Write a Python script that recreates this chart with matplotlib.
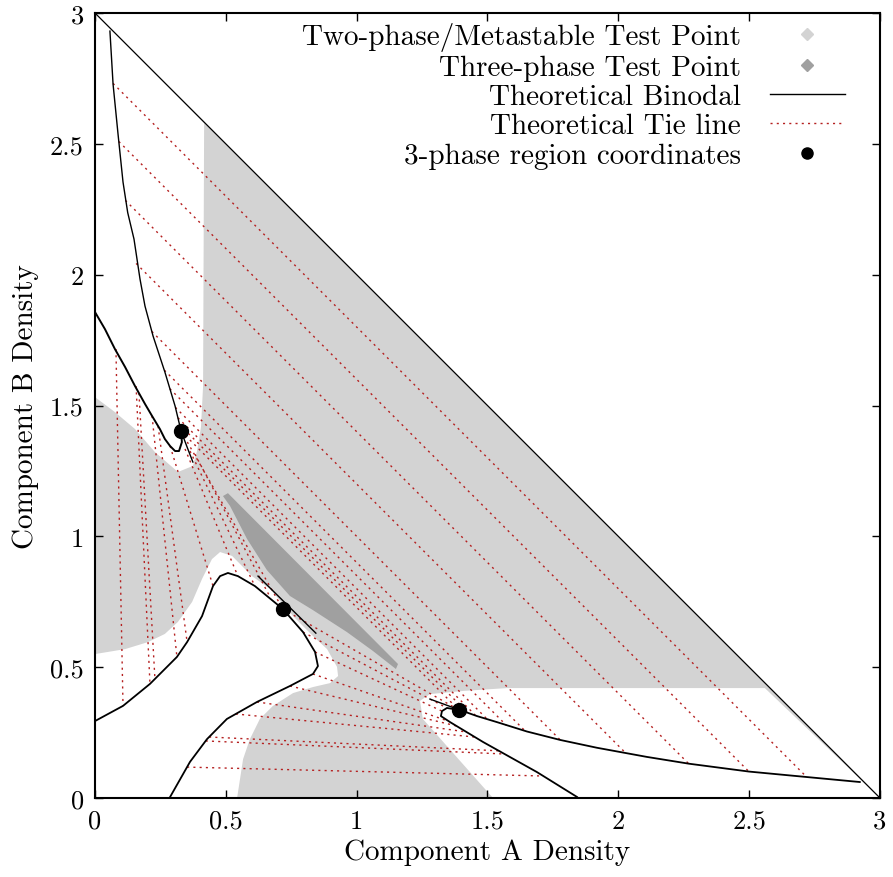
import matplotlib
matplotlib.use("Agg")
import matplotlib.pyplot as plt
from matplotlib.lines import Line2D

plt.rcParams['font.family'] = 'cmr10'
plt.rcParams['axes.formatter.use_mathtext'] = True

# --- binodal curves ---
upper_x = [0.057, 0.069, 0.088, 0.107, 0.125, 0.149, 0.172, 0.191, 0.222, 0.267, 0.306, 0.329, 0.352, 0.374]
upper_y = [2.931, 2.728, 2.537, 2.354, 2.237, 2.136, 1.983, 1.880, 1.765, 1.628, 1.498, 1.402, 1.341, 1.284]

left_x = [0.0, 0.038, 0.076, 0.115, 0.153, 0.191, 0.218, 0.248, 0.267, 0.287, 0.306, 0.321, 0.332, 0.329]
left_y = [1.857, 1.792, 1.716, 1.647, 1.574, 1.506, 1.460, 1.410, 1.372, 1.345, 1.326, 1.326, 1.360, 1.402]

loop2_x = [0.0, 0.107, 0.210, 0.313, 0.352, 0.409, 0.451, 0.478, 0.508, 0.546, 0.611, 0.718,
           0.795, 0.841, 0.852, 0.833, 0.745, 0.619, 0.504, 0.428, 0.363, 0.287]
loop2_y = [0.294, 0.352, 0.436, 0.539, 0.596, 0.695, 0.810, 0.848, 0.860, 0.848, 0.810, 0.722,
           0.634, 0.558, 0.504, 0.474, 0.428, 0.367, 0.302, 0.225, 0.138, 0.004]

loop3_x = [1.842, 1.689, 1.483, 1.357, 1.322, 1.326, 1.345, 1.395, 1.460, 1.536, 1.651, 1.777,
           1.918, 2.109, 2.270, 2.499, 2.721, 2.923]
loop3_y = [0.004, 0.099, 0.214, 0.290, 0.313, 0.332, 0.344, 0.336, 0.313, 0.290, 0.254, 0.222,
           0.192, 0.157, 0.131, 0.101, 0.080, 0.061]

tan2_x = [0.623, 0.844]
tan2_y = [0.848, 0.630]
tan3_x = [1.280, 1.395]
tan3_y = [0.378, 0.336]

diag_x = [0.0, 3.0]
diag_y = [3.0, 0.0]

# --- tie lines: start (x0, y0) to end (x1, y1) ---
tie_x0 = [0.069, 0.091, 0.116, 0.157, 0.217, 0.265, 0.286, 0.307, 0.317, 0.323, 0.329,
          0.080, 0.157, 0.168, 0.218, 0.241, 0.287,
          0.344, 0.363, 0.382, 0.329,
          0.718, 0.795, 0.841, 0.833, 0.745, 0.619, 0.538, 0.436, 0.423, 0.352]
tie_y0 = [2.731, 2.509, 2.284, 2.043, 1.783, 1.635, 1.564, 1.493, 1.453, 1.427, 1.402,
          1.716, 1.574, 1.547, 1.460, 1.421, 1.345,
          1.334, 1.326, 1.314, 1.402,
          0.722, 0.634, 0.558, 0.474, 0.428, 0.367, 0.321, 0.233, 0.218, 0.118]
tie_x1 = [2.719, 2.498, 2.270, 2.027, 1.783, 1.646, 1.572, 1.497, 1.453, 1.423, 1.391,
          0.107, 0.210, 0.229, 0.313, 0.352, 0.451,
          0.546, 0.611, 0.669, 0.718,
          1.391, 1.345, 1.326, 1.349, 1.383, 1.421, 1.452, 1.548, 1.567, 1.712]
tie_y1 = [0.081, 0.102, 0.130, 0.173, 0.217, 0.254, 0.278, 0.303, 0.317, 0.327, 0.336,
          0.352, 0.436, 0.455, 0.539, 0.596, 0.810,
          0.848, 0.810, 0.768, 0.722,
          0.336, 0.344, 0.332, 0.294, 0.275, 0.252, 0.233, 0.180, 0.168, 0.084]

# --- 3-phase region coordinates ---
pts_x = [0.329, 0.718, 1.391]
pts_y = [1.402, 0.722, 0.336]

# --- test point regions ---
tri_x = [0.0, 3.0, 0.0]
tri_y = [0.0, 0.0, 3.0]

hole1_x = [0.0, 0.417, 0.413, 0.405, 0.390, 0.374, 0.317, 0.229, 0.153, 0.076, 0.0]
hole1_y = [3.0, 2.579, 1.574, 1.418, 1.326, 1.269, 1.246, 1.322, 1.410, 1.475, 1.532]

hole2_x = [1.242, 1.280, 1.406, 1.574, 2.560, 3.0, 1.521, 1.253]
hole2_y = [0.371, 0.397, 0.409, 0.420, 0.420, 0.0, 0.0, 0.302]

hole3_x = [0.0, 0.115, 0.203, 0.267, 0.317, 0.371, 0.409, 0.447, 0.478, 0.524, 0.600, 0.669,
           0.757, 0.833, 0.887, 0.925, 0.929, 0.898, 0.833, 0.757, 0.680, 0.630, 0.592, 0.566,
           0.543, 0.0]
hole3_y = [0.550, 0.569, 0.596, 0.627, 0.673, 0.749, 0.837, 0.913, 0.940, 0.925, 0.848, 0.799,
           0.695, 0.619, 0.569, 0.501, 0.466, 0.439, 0.424, 0.401, 0.352, 0.302, 0.225, 0.149,
           0.0, 0.0]

band_x = [0.489, 0.508, 1.158, 1.150, 1.062, 0.963, 0.833, 0.745, 0.657, 0.581, 0.516]
band_y = [1.154, 1.165, 0.512, 0.493, 0.562, 0.634, 0.718, 0.772, 0.871, 0.990, 1.116]

ticks = [0, 0.5, 1, 1.5, 2, 2.5, 3]
tick_labels = ['0', '0.5', '1', '1.5', '2', '2.5', '3']

light = '#d3d3d3'
dark = '#a0a0a0'
red = '#b52020'

fig = plt.figure(figsize=(8.93, 8.78), dpi=100)
ax = fig.add_axes([0.1064, 0.09, 0.879, 0.894])

ax.fill(tri_x, tri_y, color=light, lw=0, zorder=1)
for hx, hy in [(hole1_x, hole1_y), (hole2_x, hole2_y), (hole3_x, hole3_y)]:
    ax.fill(hx, hy, color='white', lw=0, zorder=1.5)
ax.fill(band_x, band_y, color=dark, lw=0, zorder=2)

for i in range(len(tie_x0)):
    ax.plot([tie_x0[i], tie_x1[i]], [tie_y0[i], tie_y1[i]], color=red, lw=1.0,
            ls=(0, (1.5, 3)), zorder=3)

ax.plot(diag_x, diag_y, color='black', lw=0.9, zorder=4)
ax.plot(upper_x, upper_y, color='black', lw=1.0, zorder=4)
ax.plot(left_x, left_y, color='black', lw=1.4, zorder=4)
ax.plot(loop2_x, loop2_y, color='black', lw=1.3, zorder=4)
ax.plot(loop3_x, loop3_y, color='black', lw=1.3, zorder=4)
ax.plot(tan2_x, tan2_y, color='black', lw=1.0, zorder=4)
ax.plot(tan3_x, tan3_y, color='black', lw=1.0, zorder=4)
ax.plot(pts_x, pts_y, 'o', color='black', ms=10, zorder=5)

ax.set_xlim(0, 3)
ax.set_ylim(0, 3)
ax.set_xticks(ticks)
ax.set_xticklabels(tick_labels)
ax.set_yticks(ticks)
ax.set_yticklabels(tick_labels)
ax.tick_params(direction='in', length=6, width=1, top=True, right=True, labelsize=19, pad=8)
for s in ax.spines.values():
    s.set_linewidth(1.5)
ax.set_xlabel('Component A Density', fontsize=21, labelpad=4)
ax.set_ylabel('Component B Density', fontsize=21, labelpad=8)

handles = [
    Line2D([], [], ls='none', marker='D', color=light, ms=6),
    Line2D([], [], ls='none', marker='D', color=dark, ms=6),
    Line2D([], [], color='black', lw=1.0),
    Line2D([], [], color=red, lw=1.0, ls=(0, (1.5, 3))),
    Line2D([], [], ls='none', marker='o', color='black', ms=8),
]
labels = ['Two-phase/Metastable Test Point', 'Three-phase Test Point', 'Theoretical Binodal',
          'Theoretical Tie line', '3-phase region coordinates']
ax.legend(handles, labels, loc='upper right', bbox_to_anchor=(0.955, 0.988), frameon=False,
          markerfirst=False, fontsize=21, handlelength=2.55, handletextpad=1.0,
          labelspacing=0.1, borderpad=0, borderaxespad=0)

fig.savefig('out.png', dpi=100)
